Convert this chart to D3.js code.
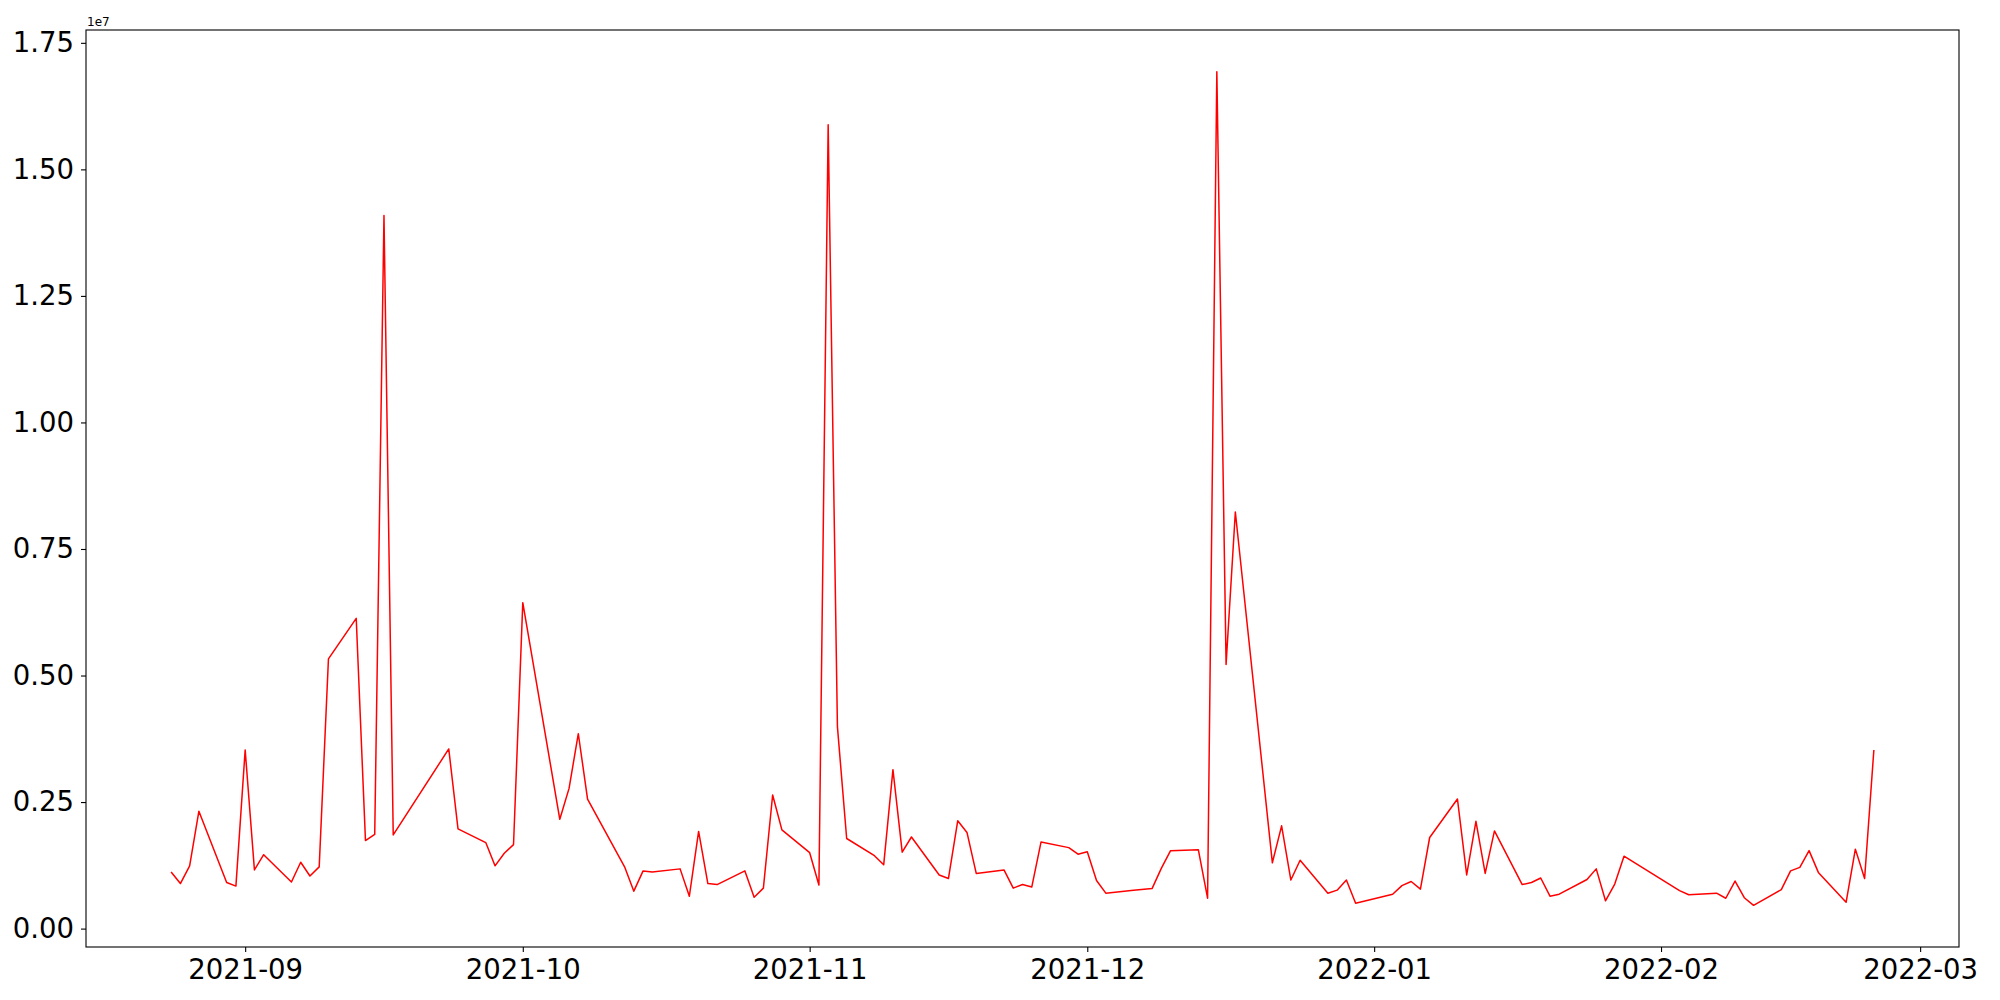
<!DOCTYPE html>
<html>
<head>
<meta charset="utf-8">
<script src="https://cdn.jsdelivr.net/npm/d3@7"></script>
<style>
  body { margin: 0; background: #fff; }
  text { font-family: "DejaVu Sans", sans-serif; }
</style>
</head>
<body>
<script>
// trading days (gaps are weekends / holidays)
const dates = [
    "2021-08-24","2021-08-25","2021-08-26","2021-08-27","2021-08-30","2021-08-31",
    "2021-09-01","2021-09-02","2021-09-03","2021-09-06","2021-09-07","2021-09-08","2021-09-09","2021-09-10",
    "2021-09-13","2021-09-14","2021-09-15","2021-09-16","2021-09-17","2021-09-23","2021-09-24",
    "2021-09-27","2021-09-28","2021-09-29","2021-09-30","2021-10-01",
    "2021-10-05","2021-10-06","2021-10-07","2021-10-08","2021-10-12","2021-10-13","2021-10-14","2021-10-15",
    "2021-10-18","2021-10-19","2021-10-20","2021-10-21","2021-10-22",
    "2021-10-25","2021-10-26","2021-10-27","2021-10-28","2021-10-29",
    "2021-11-01","2021-11-02","2021-11-03","2021-11-04","2021-11-05",
    "2021-11-08","2021-11-09","2021-11-10","2021-11-11","2021-11-12",
    "2021-11-15","2021-11-16","2021-11-17","2021-11-18","2021-11-19",
    "2021-11-22","2021-11-23","2021-11-24","2021-11-25","2021-11-26",
    "2021-11-29","2021-11-30","2021-12-01","2021-12-02","2021-12-03",
    "2021-12-06","2021-12-08","2021-12-09","2021-12-10",
    "2021-12-13","2021-12-14","2021-12-15","2021-12-16","2021-12-17",
    "2021-12-21","2021-12-22","2021-12-23","2021-12-24",
    "2021-12-27","2021-12-28","2021-12-29","2021-12-30",
    "2022-01-03","2022-01-04","2022-01-05","2022-01-06","2022-01-07",
    "2022-01-10","2022-01-11","2022-01-12","2022-01-13","2022-01-14",
    "2022-01-17","2022-01-18","2022-01-19","2022-01-20","2022-01-21",
    "2022-01-24","2022-01-25","2022-01-26","2022-01-27","2022-01-28",
    "2022-02-03","2022-02-04","2022-02-07","2022-02-08","2022-02-09","2022-02-10","2022-02-11",
    "2022-02-14","2022-02-15","2022-02-16","2022-02-17","2022-02-18",
    "2022-02-21","2022-02-22","2022-02-23","2022-02-24"
]

// volume, millions
const volumes = [
    1.12, 0.89, 1.24, 2.32, 0.91, 0.84,
    3.53, 1.16, 1.46, 0.92, 1.31, 1.04, 1.22, 5.33,
    6.13, 1.74, 1.86, 14.09, 1.85, 3.55, 1.97,
    1.70, 1.24, 1.49, 1.66, 6.44,
    2.16, 2.77, 3.85, 2.56, 1.22, 0.74, 1.14, 1.12,
    1.18, 0.64, 1.92, 0.89, 0.87,
    1.14, 0.62, 0.80, 2.64, 1.95,
    1.50, 0.86, 15.88, 3.99, 1.78,
    1.44, 1.26, 3.14, 1.51, 1.81,
    1.06, 0.99, 2.13, 1.90, 1.09,
    1.16, 0.80, 0.87, 0.82, 1.71,
    1.60, 1.47, 1.52, 0.95, 0.70,
    0.76, 0.79, 1.19, 1.54,
    1.56, 0.60, 16.93, 5.22, 8.23,
    1.30, 2.03, 0.96, 1.35,
    0.70, 0.76, 0.96, 0.50,
    0.68, 0.85, 0.93, 0.78, 1.80,
    2.56, 1.06, 2.12, 1.09, 1.93,
    0.87, 0.91, 1.00, 0.64, 0.68,
    0.97, 1.18, 0.55, 0.88, 1.43,
    0.75, 0.67, 0.70, 0.60, 0.94, 0.61, 0.46,
    0.77, 1.14, 1.21, 1.54, 1.11,
    0.52, 1.57, 0.99, 3.53
]

const yTicks = [0, 0.25, 0.5, 0.75, 1.0, 1.25, 1.5, 1.75] // x 1e7
const xTicks = ["2021-09-01","2021-10-01","2021-11-01","2021-12-01","2022-01-01","2022-02-01","2022-03-01"]

const w = 2000
const h = 1000
const mLeft = 86
const mRight = 1959
const mTop = 30
const mBottom = 947

const parse = d3.utcParse("%Y-%m-%d")
const data = dates.map((d, i) => ({date: parse(d), value: volumes[i] * 1e6}))

// matplotlib style 5% margins
const t0 = data[0].date.getTime()
const t1 = data[data.length - 1].date.getTime()
const tp = (t1 - t0) * 0.05
const vmin = d3.min(data, d => d.value)
const vmax = d3.max(data, d => d.value)
const vp = (vmax - vmin) * 0.05

const x = d3.scaleUtc()
            .domain([new Date(t0 - tp), new Date(t1 + tp)])
            .range([mLeft, mRight])
const y = d3.scaleLinear()
            .domain([vmin - vp, vmax + vp])
            .range([mBottom, mTop])

const svg = d3.select("body")
              .append("svg")
              .attr("width", w)
              .attr("height", h)

svg.append("path")
   .datum(data)
   .attr("fill", "none")
   .attr("stroke", "#ff0000")
   .attr("stroke-width", 1.5)
   .attr("stroke-linejoin", "round")
   .attr("d", d3.line().x(d => x(d.date)).y(d => y(d.value)))

const xAxis = svg.append("g")
                 .attr("transform", "translate(0," + mBottom + ")")
                 .call(d3.axisBottom(x)
                         .tickValues(xTicks.map(parse))
                         .tickFormat(d3.utcFormat("%Y-%m"))
                         .tickSize(5)
                         .tickPadding(7)
                         .tickSizeOuter(0))
xAxis.select(".domain").remove()

const yAxis = svg.append("g")
                 .attr("transform", "translate(" + mLeft + ",0)")
                 .call(d3.axisLeft(y)
                         .tickValues(yTicks.map(v => v * 1e7))
                         .tickFormat(v => d3.format(".2f")(v / 1e7))
                         .tickSize(5)
                         .tickPadding(7)
                         .tickSizeOuter(0))
yAxis.select(".domain").remove()

svg.selectAll(".tick line")
   .attr("stroke", "#000")
   .attr("stroke-width", 1.1)
svg.selectAll(".tick text")
   .attr("fill", "#000")
   .style("font-family", "'DejaVu Sans', sans-serif")
   .style("font-size", "27.5px")

// frame
svg.append("rect")
   .attr("x", mLeft)
   .attr("y", mTop)
   .attr("width", mRight - mLeft)
   .attr("height", mBottom - mTop)
   .attr("fill", "none")
   .attr("stroke", "#000")
   .attr("stroke-width", 1.1)

// offset text
svg.append("text")
   .attr("x", mLeft + 1)
   .attr("y", mTop - 4)
   .style("font-size", "12px")
   .text("1e7")
</script>
</body>
</html>
